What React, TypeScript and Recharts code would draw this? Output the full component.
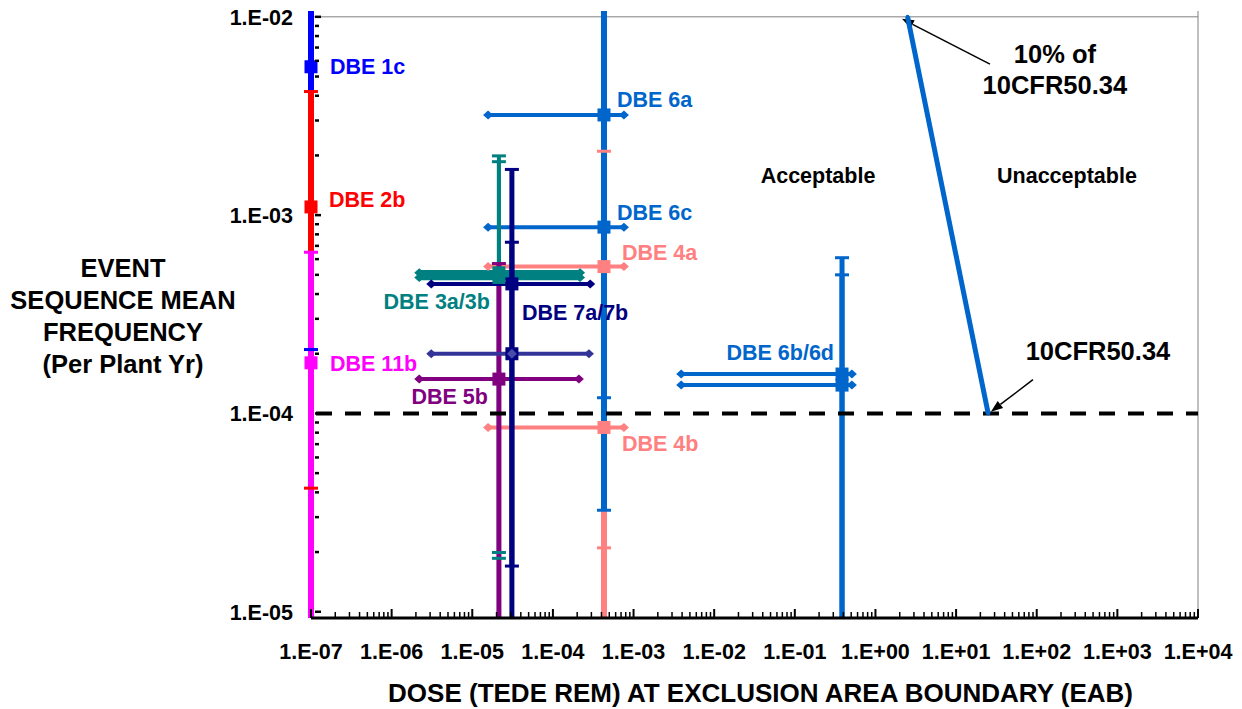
import React from 'react'
import {
  ScatterChart,
  Scatter,
  XAxis,
  YAxis,
  ErrorBar,
  ReferenceLine,
  ReferenceDot,
} from 'recharts'

const FONT = 'Liberation Sans, Arial, sans-serif'

// axes
const X_TICKS = [1e-7, 1e-6, 1e-5, 1e-4, 1e-3, 1e-2, 1e-1, 1, 10, 100, 1000, 10000]
const X_TICK_LABELS = ['1.E-07', '1.E-06', '1.E-05', '1.E-04', '1.E-03', '1.E-02', '1.E-01', '1.E+00', '1.E+01', '1.E+02', '1.E+03', '1.E+04']
const Y_TICKS = [1e-5, 1e-4, 1e-3, 1e-2]
const Y_TICK_LABELS = ['1.E-05', '1.E-04', '1.E-03', '1.E-02']

// event sequences: mean dose / frequency with their uncertainty bounds
const NAMES = ['1c', '2b', '11b', '4a', '4b', '6a', '6c', '6b', '6d', '3a', '3b', '5b', '7a', '7b']
const DOSE = [1e-7, 1e-7, 1e-7, 4.3e-4, 4.3e-4, 4.3e-4, 4.3e-4, 0.385, 0.385, 2.14e-5, 2.14e-5, 2.14e-5, 3.1e-5, 3.1e-5]
const DOSE_LO = [null, null, null, 1.57e-5, 1.57e-5, 1.57e-5, 1.57e-5, 3.9e-3, 3.9e-3, 2.2e-6, 2.2e-6, 2.2e-6, 3.1e-6, 3.1e-6]
const DOSE_HI = [null, null, null, 7.6e-4, 7.6e-4, 7.6e-4, 7.6e-4, 0.51, 0.51, 2.17e-4, 2.17e-4, 2.1e-4, 2.9e-4, 2.8e-4]
const FREQ = [5.6e-3, 1.1e-3, 1.8e-4, 5.5e-4, 8.5e-5, 3.2e-3, 8.7e-4, 1.58e-4, 1.39e-4, 4.85e-4, 5.12e-4, 1.49e-4, 4.5e-4, 2.0e-4]
const FREQ_LO = [2.1e-4, 4.2e-5, 9.3e-6, 2.1e-5, 9.3e-6, 1.2e-4, 3.25e-5, 9.3e-6, 9.3e-6, 1.86e-5, 1.99e-5, 9.3e-6, 1.7e-5, 9.3e-6]
const FREQ_HI = [1.07e-2, 4.2e-3, 6.5e-4, 1.07e-2, 2.1e-3, 1.07e-2, 1.07e-2, 6.1e-4, 5.0e-4, 1.86e-3, 1.99e-3, 5.7e-4, 1.7e-3, 7.3e-4]

// 10CFR50.34 limit line and the 10% line
const LIMIT_FREQ = 1e-4
const LIMIT_LINE_DOSE = [2.5, 25]
const LIMIT_LINE_FREQ = [1e-2, 1e-4]

const LABELS: Record<string, string> = {
  '1c': 'DBE 1c',
  '2b': 'DBE 2b',
  '11b': 'DBE 11b',
  '6a': 'DBE 6a',
  '6c': 'DBE 6c',
  '4a': 'DBE 4a',
  '4b': 'DBE 4b',
  '3a': 'DBE 3a/3b',
  '7a': 'DBE 7a/7b',
  '5b': 'DBE 5b',
  '6b': 'DBE 6b/6d',
}

const COLOR: Record<string, string> = {
  '1c': '#0000FF',
  '2b': '#FF0000',
  '11b': '#FF00FF',
  '4a': '#FF8080',
  '4b': '#FF8080',
  '6a': '#0066CC',
  '6c': '#0066CC',
  '6b': '#0066CC',
  '6d': '#0066CC',
  '3a': '#008080',
  '3b': '#008080',
  '5b': '#800080',
  '7a': '#000080',
  '7b': '#000080',
}
const H_COLOR: Record<string, string> = { '7b': '#333399' }
const V_WIDTH: Record<string, number> = { '3a': 4, '3b': 4, '5b': 5, '7a': 5, '7b': 5, '6b': 5, '6d': 5 }
const H_WIDTH: Record<string, number> = { '3a': 5.5, '3b': 5.5 }

// label offsets from the marker (px)
const LABEL_POS: Record<string, { dx: number; dy: number; anchor: 'start' | 'end' }> = {
  '1c': { dx: 19, dy: 7, anchor: 'start' },
  '2b': { dx: 18, dy: 0, anchor: 'start' },
  '11b': { dx: 19, dy: 8, anchor: 'start' },
  '6a': { dx: 13, dy: -8, anchor: 'start' },
  '6c': { dx: 13, dy: -7, anchor: 'start' },
  '4a': { dx: 18, dy: -7, anchor: 'start' },
  '4b': { dx: 18, dy: 24, anchor: 'start' },
  '3a': { dx: -9, dy: 32, anchor: 'end' },
  '7a': { dx: 10, dy: 36, anchor: 'start' },
  '5b': { dx: -11, dy: 25, anchor: 'end' },
  '6b': { dx: -8, dy: -14, anchor: 'end' },
}

const Y_MIN = Y_TICKS[0]
const Y_MAX = Y_TICKS[Y_TICKS.length - 1]

const minors = (majors: number[]) =>
  majors.slice(0, -1).flatMap((d) => [2, 3, 4, 5, 6, 7, 8, 9].map((m) => m * d))

const rows = NAMES.map((name, i) => ({
  name,
  dose: DOSE[i],
  freq: FREQ[i],
  doseLo: DOSE_LO[i],
  doseHi: DOSE_HI[i],
  freqLo: FREQ_LO[i],
  freqHi: FREQ_HI[i],
  ex: DOSE_LO[i] == null ? null : [DOSE[i] - (DOSE_LO[i] as number), (DOSE_HI[i] as number) - DOSE[i]],
  ey: [FREQ[i] - FREQ_LO[i], FREQ_HI[i] - FREQ[i]],
}))

const endsOf = (r: (typeof rows)[number]) => {
  const out: any[] = []
  if (r.freqLo >= Y_MIN) out.push({ name: r.name, kind: 'cap', dose: r.dose, freq: r.freqLo })
  if (r.freqHi <= Y_MAX) out.push({ name: r.name, kind: 'cap', dose: r.dose, freq: r.freqHi })
  if (r.doseLo != null) {
    out.push({ name: r.name, kind: 'arrow', dose: r.doseLo, freq: r.freq })
    out.push({ name: r.name, kind: 'arrow', dose: r.doseHi, freq: r.freq })
  }
  return out
}

const limitLine = LIMIT_LINE_DOSE.map((dose, i) => ({ dose, freq: LIMIT_LINE_FREQ[i] }))

const Empty = () => <g />

const EndMark = (p: any) => {
  const { cx, cy, payload } = p
  if (payload.kind === 'arrow') {
    const c = H_COLOR[payload.name] || COLOR[payload.name]
    return <polygon points={`${cx - 5},${cy} ${cx},${cy - 4.5} ${cx + 5},${cy} ${cx},${cy + 4.5}`} fill={c} />
  }
  return <rect x={cx - 7} y={cy - 1.5} width={14} height={3} fill={COLOR[payload.name]} />
}

const Marker = (p: any) => {
  const { cx, cy, payload } = p
  const c = COLOR[payload.name]
  return (
    <g>
      <rect x={cx - 6.5} y={cy - 6.5} width={13} height={13} fill={c} />
      {payload.name === '7b' && (
        <polygon points={`${cx - 5},${cy} ${cx},${cy - 5} ${cx + 5},${cy} ${cx},${cy + 5}`} fill="#4a4aa8" />
      )}
    </g>
  )
}

const LabelMark = (p: any) => {
  const { cx, cy, payload } = p
  const pos = LABEL_POS[payload.name]
  return (
    <text
      x={cx + pos.dx}
      y={cy + pos.dy}
      textAnchor={pos.anchor}
      fill={COLOR[payload.name]}
      fontFamily={FONT}
      fontWeight="bold"
      fontSize={21.5}
    >
      {LABELS[payload.name]}
    </text>
  )
}

const LimitDot = (p: any) => <circle cx={p.cx} cy={p.cy} r={2} fill="#0066CC" />

const XTick = (p: any) => {
  const { x, y, payload } = p
  const i = X_TICKS.indexOf(payload.value)
  const major = i >= 0
  return (
    <g>
      <line x1={x} x2={x} y1={y} y2={y - (major ? 9 : 6)} stroke="#000" strokeWidth={major ? 2 : 1.5} />
      {major && (
        <text x={x} y={y + 41} textAnchor="middle" fontFamily={FONT} fontWeight="bold" fontSize={21.5} fill="#000">
          {X_TICK_LABELS[i]}
        </text>
      )}
    </g>
  )
}

const YTick = (p: any) => {
  const { x, y, payload } = p
  const i = Y_TICKS.indexOf(payload.value)
  const major = i >= 0
  return (
    <g>
      {y > 620 ? null : (
        <line x1={x + 4} x2={x + (major ? 10 : 8)} y1={y} y2={y} stroke="#000" strokeWidth={2.5} />
      )}
      {major && (
        <text x={x - 18} y={y + 8} textAnchor="end" fontFamily={FONT} fontWeight="bold" fontSize={21.5} fill="#000">
          {Y_TICK_LABELS[i]}
        </text>
      )}
    </g>
  )
}

const YTitle = (p: any) => {
  const vb = p.viewBox
  const cx = vb.x - 88
  const lines = ['EVENT', 'SEQUENCE MEAN', 'FREQUENCY', '(Per Plant Yr)']
  return (
    <g>
      {lines.map((t, i) => (
        <text key={t} x={cx} y={vb.y + 266 + i * 32} textAnchor="middle" fontFamily={FONT} fontWeight="bold" fontSize={25.5} fill="#000">
          {t}
        </text>
      ))}
    </g>
  )
}

const XTitle = (p: any) => {
  const vb = p.viewBox
  return (
    <text x={vb.x + vb.width / 2 + 6} y={vb.y + 84} textAnchor="middle" fontFamily={FONT} fontWeight="bold" fontSize={26} fill="#000">
      DOSE (TEDE REM) AT EXCLUSION AREA BOUNDARY (EAB)
    </text>
  )
}

const Arrow = (p: any) => {
  const { x1, y1, x2, y2 } = p
  const a = Math.atan2(y2 - y1, x2 - x1)
  const L = 12
  const W = 4.5
  const bx = x2 - L * Math.cos(a)
  const by = y2 - L * Math.sin(a)
  const px = -Math.sin(a) * W
  const py = Math.cos(a) * W
  return (
    <g>
      <line x1={x1} y1={y1} x2={bx} y2={by} stroke="#000" strokeWidth={1.5} />
      <polygon points={`${x2},${y2} ${bx + px},${by + py} ${bx - px},${by - py}`} fill="#000" />
    </g>
  )
}

const note = (text: string, size: number) => (p: any) => (
  <text x={p.cx} y={p.cy} textAnchor="middle" fontFamily={FONT} fontWeight="bold" fontSize={size} fill="#000">
    {text}
  </text>
)

// annotation anchors (centre x, baseline y) in data units
const NOTES = [
  { text: '10% of', dose: 168, freq: 5.83e-3, size: 25.5 },
  { text: '10CFR50.34', dose: 168, freq: 4.09e-3, size: 25.5 },
  { text: 'Acceptable', dose: 0.194, freq: 1.46e-3, size: 21.5 },
  { text: 'Unacceptable', dose: 237, freq: 1.46e-3, size: 21.5 },
  { text: '10CFR50.34', dose: 575, freq: 1.86e-4, size: 25.5 },
]
const ARROWS = [
  [{ x: 26.3, y: 5.77e-3 }, { x: 2.13, y: 9.77e-3 }],
  [{ x: 89.8, y: 1.48e-4 }, { x: 27, y: 1.02e-4 }],
]

export default function App() {
  const xTicks = [...X_TICKS, ...minors(X_TICKS)]
  const yTicks = [...Y_TICKS, ...minors(Y_TICKS)]

  return (
    <div style={{ position: 'absolute', left: 0, top: 0, width: 1242, height: 709, background: '#fff', fontFamily: FONT }}>
      <ScatterChart width={1242} height={709} margin={{ top: 11, right: 44, bottom: 31, left: 211 }}>
        <XAxis
          type="number"
          dataKey="dose"
          scale="log"
          domain={() => [X_TICKS[0], X_TICKS[X_TICKS.length - 1]]}
          ticks={xTicks}
          interval={0}
          tick={<XTick />}
          tickLine={false}
          tickSize={0}
          tickMargin={0}
          height={60}
          axisLine={{ stroke: '#000', strokeWidth: 3 }}
          label={<XTitle />}
        />
        <YAxis
          type="number"
          dataKey="freq"
          scale="log"
          domain={() => [Y_MIN, Y_MAX]}
          ticks={yTicks}
          interval={0}
          tick={<YTick />}
          tickLine={false}
          tickSize={0}
          tickMargin={0}
          width={100}
          axisLine={false}
          label={<YTitle />}
        />

        <ReferenceLine y={Y_MAX} stroke="#808080" strokeWidth={1} ifOverflow="visible" />
        <ReferenceLine x={X_TICKS[X_TICKS.length - 1]} stroke="#808080" strokeWidth={1} ifOverflow="visible" />

        {rows.flatMap((r) => [
          <Scatter key={`bar-${r.name}`} data={[r]} shape={Empty} isAnimationActive={false}>
            {r.ex && (
              <ErrorBar
                dataKey="ex"
                direction="x"
                width={0}
                stroke={H_COLOR[r.name] || COLOR[r.name]}
                strokeWidth={H_WIDTH[r.name] || 4}
                isAnimationActive={false}
              />
            )}
            <ErrorBar
              dataKey="ey"
              direction="y"
              width={0}
              stroke={COLOR[r.name]}
              strokeWidth={V_WIDTH[r.name] || 6}
              isAnimationActive={false}
            />
          </Scatter>,
          <Scatter key={`end-${r.name}`} data={endsOf(r)} shape={EndMark} isAnimationActive={false} />,
        ])}

        <ReferenceLine y={LIMIT_FREQ} stroke="#000" strokeWidth={4} strokeDasharray="16 13" strokeDashoffset={24} />

        <Scatter
          data={limitLine}
          line={{ stroke: '#0066CC', strokeWidth: 5 }}
          shape={LimitDot}
          isAnimationActive={false}
        />

        <Scatter data={rows} shape={Marker} isAnimationActive={false} />
        <Scatter data={rows.filter((r) => LABELS[r.name])} shape={LabelMark} isAnimationActive={false} />

        {ARROWS.map((seg, i) => (
          <ReferenceLine key={`arrow-${i}`} segment={seg} shape={Arrow} ifOverflow="visible" />
        ))}
        {NOTES.map((n, i) => (
          <ReferenceDot key={`note-${i}`} x={n.dose} y={n.freq} r={0} shape={note(n.text, n.size)} ifOverflow="visible" />
        ))}
      </ScatterChart>
    </div>
  )
}
